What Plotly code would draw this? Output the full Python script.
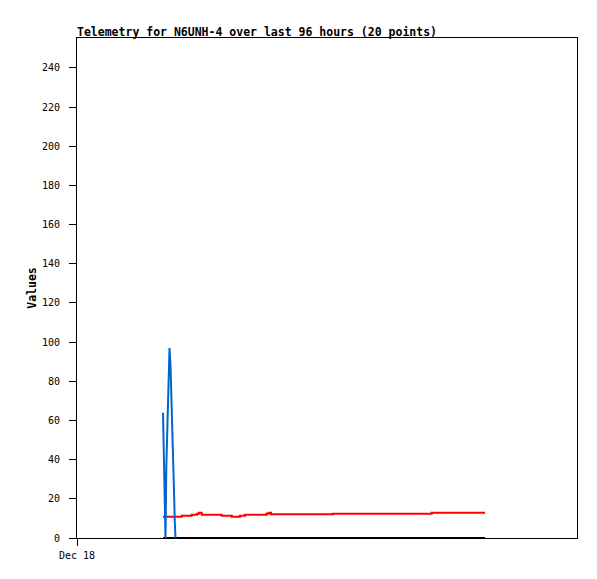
import plotly.graph_objects as go

# hours since Dec 18 00:00
blue_t = [25.8, 26.01, 26.34, 26.55, 26.79, 27.09, 27.45, 27.75, 28.05, 28.26, 28.59, 28.86, 29.1, 29.34, 29.55]
blue_v = [64, 41, 8, 0, 36, 60, 84, 97, 88, 72, 56, 40, 24, 8, 0]

red_t = [25.8, 31.4, 34.4, 36.0, 36.6, 37.4, 43.4, 46.4, 48.9, 50.4, 56.9, 57.6, 58.2, 76.8, 106.4, 122.4]
red_v = [10.9, 11.4, 11.9, 12.4, 12.9, 11.9, 11.4, 10.9, 11.4, 11.9, 12.5, 12.9, 12.1, 12.4, 12.9, 12.9]

black_t = [25.8, 122.4]
black_v = [0, 0]

y_ticks = list(range(0, 241, 20))
x_tickvals = [0]
x_ticktext = ["Dec 18"]
title = "Telemetry for N6UNH-4 over last 96 hours (20 points)"

font = "DejaVu Sans Mono"

fig = go.Figure()
fig.add_trace(go.Scatter(x=black_t, y=black_v, mode="lines",
                         line=dict(color="#000000", width=2), hoverinfo="skip"))
fig.add_trace(go.Scatter(x=red_t, y=red_v, mode="lines",
                         line=dict(color="#FF0000", width=2, shape="hv"), hoverinfo="skip"))
fig.add_trace(go.Scatter(x=blue_t, y=blue_v, mode="lines",
                         line=dict(color="#0066CC", width=2), hoverinfo="skip"))

fig.update_layout(
    width=597, height=579,
    margin=dict(l=69, r=28, t=30, b=49),
    paper_bgcolor="white", plot_bgcolor="white",
    showlegend=False,
    font=dict(family=font, size=10, color="black"),
    xaxis=dict(range=[0, 150], tickvals=x_tickvals, ticktext=x_ticktext,
               showgrid=False, zeroline=False, showline=True, linecolor="black",
               linewidth=1, mirror=True, ticks="outside", ticklen=7,
               tickcolor="black", tickfont=dict(family=font, size=10),
               automargin=False, ticklabelstandoff=1),
    yaxis=dict(range=[0, 255.3], tickvals=y_ticks,
               showgrid=False, zeroline=False, showline=True, linecolor="black",
               linewidth=1, mirror=True, ticks="outside", ticklen=7,
               tickcolor="black", tickfont=dict(family=font, size=10),
               automargin=False, ticklabelstandoff=7,
               title=dict(text="<b>Values</b>", font=dict(family=font, size=11.5), standoff=2)),
    annotations=[dict(text="<b>" + title + "</b>", x=0, y=1, xref="paper", yref="paper",
                      xanchor="left", yanchor="bottom", showarrow=False, yshift=-3, xshift=-2,
                      font=dict(family=font, size=11.5, color="black"))],
)

fig.write_html("out.html")
